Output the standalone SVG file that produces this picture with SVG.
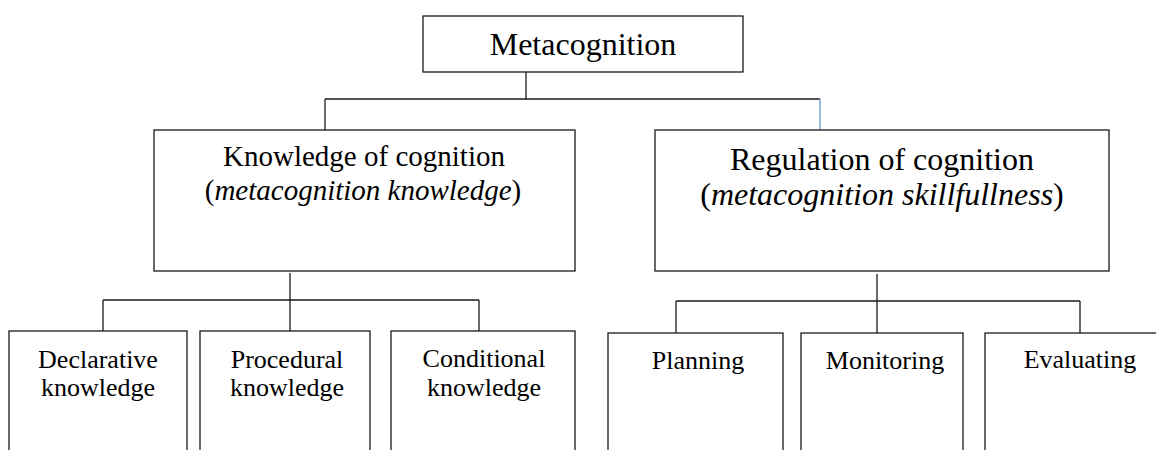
<svg xmlns="http://www.w3.org/2000/svg" width="1156" height="450" viewBox="0 0 1156 450">
  <style>
    .box { fill: #ffffff; stroke: #1a1a1a; stroke-width: 1.3; }
    .ln { fill: none; stroke: #1a1a1a; stroke-width: 1.3; }
    .blue { fill: none; stroke: #5b9bd5; stroke-width: 1.3; }
    .lbl { fill: #000; text-anchor: middle; }
    .t32 { font-size: 32px; }
    .t29 { font-size: 29px; }
    .t26 { font-size: 26px; }
    .it { font-style: italic; }
  </style>
  <rect width="1156" height="450" fill="#ffffff"/>
  <g id="connectors">
    <path class="ln" d="M526 72 V99"/>
    <path class="ln" d="M325 99 H820"/>
    <path class="ln" d="M325 99 V130"/>
    <path class="blue" d="M820 99 V130"/>
    <path class="ln" d="M290 273 V331"/>
    <path class="ln" d="M103 300 H479"/>
    <path class="ln" d="M103 300 V331"/>
    <path class="ln" d="M479 300 V331"/>
    <path class="ln" d="M877 274 V333"/>
    <path class="ln" d="M676 301 H1080"/>
    <path class="ln" d="M676 301 V333"/>
    <path class="ln" d="M1080 301 V333"/>
  </g>
  <g font-family="Liberation Serif, serif">
  <g id="metacognition">
    <rect class="box" x="423" y="16" width="320" height="56"/>
    <text class="lbl t32" x="583" y="55">Metacognition</text>
  </g>
  <g id="knowledge">
    <rect class="box" x="154" y="130" width="421" height="141"/>
    <text class="lbl t29" x="364" y="166">Knowledge of cognition</text>
    <text class="lbl t29" x="363" y="200">(<tspan class="it">metacognition knowledge</tspan>)</text>
  </g>
  <g id="regulation">
    <rect class="box" x="655" y="130" width="454" height="141"/>
    <text class="lbl t32" x="882" y="170">Regulation of cognition</text>
    <text class="lbl t32" x="882" y="205">(<tspan class="it">metacognition skillfullness</tspan>)</text>
  </g>
  <g id="declarative">
    <rect class="box" x="9" y="331" width="178" height="140"/>
    <text class="lbl t26" x="98" y="368">Declarative</text>
    <text class="lbl t26" x="98" y="396">knowledge</text>
  </g>
  <g id="procedural">
    <rect class="box" x="200" y="331" width="170" height="140"/>
    <text class="lbl t26" x="287" y="368">Procedural</text>
    <text class="lbl t26" x="287" y="396">knowledge</text>
  </g>
  <g id="conditional">
    <rect class="box" x="391" y="331" width="184" height="140"/>
    <text class="lbl t26" x="484" y="367">Conditional</text>
    <text class="lbl t26" x="484" y="396">knowledge</text>
  </g>
  <g id="planning">
    <rect class="box" x="608" y="333" width="175" height="140"/>
    <text class="lbl t26" x="698" y="369">Planning</text>
  </g>
  <g id="monitoring">
    <rect class="box" x="801" y="333" width="162" height="140"/>
    <text class="lbl t26" x="885" y="369">Monitoring</text>
  </g>
  <g id="evaluating">
    <rect class="box" x="985" y="333" width="190" height="140"/>
    <text class="lbl t26" x="1080" y="368">Evaluating</text>
  </g>
  </g>
</svg>
